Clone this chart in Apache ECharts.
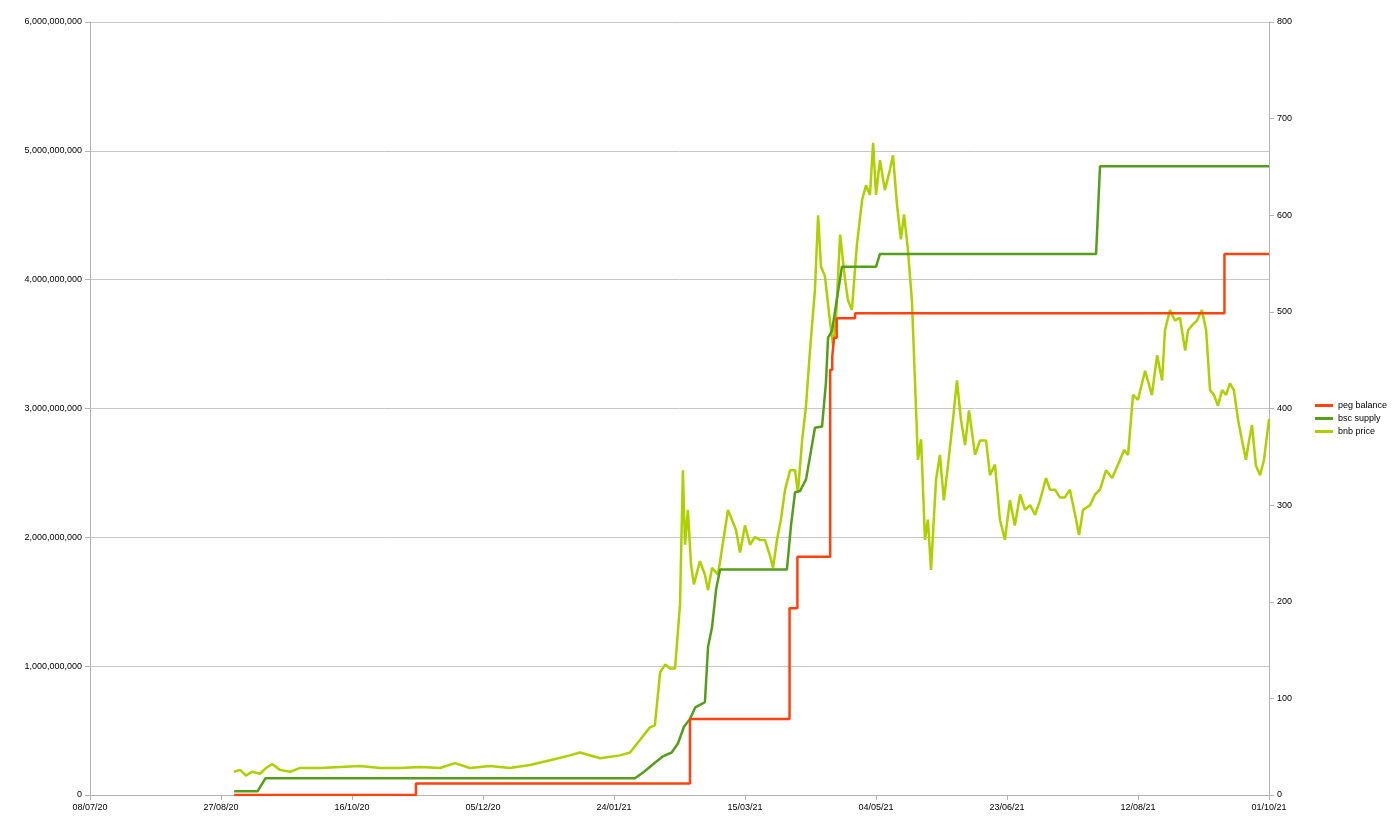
<!DOCTYPE html>
<html>
<head>
<meta charset="utf-8">
<script src="https://cdn.jsdelivr.net/npm/echarts@6/dist/echarts.min.js"></script>
<style>html,body{margin:0;padding:0;background:#fff}#chart{width:1400px;height:829px}</style>
</head>
<body>
<div id="chart"></div>
<script>
// x values are days since 08/07/20
var baseDate = Date.UTC(2020, 6, 8);

// peg balance: [day, value] step points
var pegBalance = [[55,0],[124.4,90e6],[229,590e6],[267,1.45e9],[270,1.85e9],[281,1.85e9],[282.5,3.3e9],[283.3,3.4e9],[284,3.55e9],[285,3.7e9],[292,3.74e9],[433,4.2e9],[450,4.2e9]];

// bsc supply
var bscSupply = [[55,30e6],[64,30e6],[65.5,80e6],[67,130e6],[208,130e6],[211.5,180e6],[215.6,250e6],[218.7,300e6],[222,330e6],[224.4,400e6],[226.7,530e6],[229,590e6],[231,680e6],[232.8,700e6],[234.7,720e6],[235.9,1.15e9],[237.4,1.3e9],[239,1.6e9],[240.5,1.75e9],[266,1.75e9],[267.6,2.1e9],[269.1,2.35e9],[271,2.36e9],[273.3,2.45e9],[276.7,2.85e9],[279.4,2.86e9],[280.9,3.2e9],[281.7,3.55e9],[283.2,3.6e9],[284.7,3.8e9],[287,4.1e9],[300,4.1e9],[301.5,4.2e9],[384,4.2e9],[385.5,4.88e9],[450,4.88e9]];

// bnb price (right axis)
var bnbPrice = [[55,24],[57.3,26],[59.5,20],[61.8,24],[64.9,22],[67.2,28],[69.5,32],[72.5,26],[76.3,24],[80.2,28],[87.8,28],[95.4,29],[103,30],[110.7,28],[118.3,28],[126,29],[133.6,28],[139.3,33],[145,28],[152.7,30],[160.3,28],[167.9,31],[175.6,36],[183.2,41],[187,44],[194.7,38],[202.3,41],[206.1,44],[209.9,57],[213.7,70],[215.6,72],[217.6,127],[219.5,135],[221.4,131],[223.3,131],[225.2,197],[226.3,336],[227.1,259],[228.2,295],[229.4,238],[230.5,218],[232.8,242],[234.7,228],[235.9,212],[237.4,235],[239.7,228],[243.5,295],[245,285],[246.6,274],[248.1,251],[250,279],[251.9,259],[253.8,267],[255.7,264],[257.6,264],[259.5,248],[260.7,235],[262.2,264],[263.7,285],[265.3,316],[267.2,336],[269.1,336],[270.2,313],[271.8,367],[273.3,403],[274.8,460],[276.7,523],[277.9,600],[279,547],[280.5,537],[282.4,491],[283.6,465],[284.7,491],[286.3,580],[288.2,533],[289.3,512],[290.8,502],[292.7,569],[294.7,616],[296.2,631],[297.7,621],[298.9,675],[300,621],[301.5,657],[303.4,626],[305.3,647],[306.5,662],[308,611],[309.5,575],[310.7,601],[312.2,564],[313.7,512],[315.3,398],[316,347],[317.2,368],[318.7,264],[319.8,285],[321,233],[322.9,326],[324.4,352],[325.9,305],[327.5,342],[329.4,389],[330.9,429],[332.4,389],[334,362],[335.5,398],[337.8,352],[339.7,367],[342,367],[343.5,331],[345.4,342],[347.3,285],[349.2,264],[351.1,305],[353,279],[355,311],[356.9,295],[358.8,300],[360.7,290],[362.6,305],[364.9,328],[366.4,316],[368.3,316],[370.2,308],[372.1,308],[374,316],[376,290],[377.5,269],[379,295],[381.7,300],[383.6,311],[385.5,316],[387.8,336],[390.1,328],[392.4,342],[394.7,357],[396.2,352],[398.1,414],[400,409],[402.7,439],[405.3,414],[407.3,455],[409.2,429],[410.3,481],[412.2,502],[414.1,491],[416,494],[418,460],[419.1,481],[420.6,486],[422.5,491],[424.4,502],[426,481],[427.5,419],[429,414],[430.5,403],[432.1,419],[433.6,414],[435.1,426],[436.6,419],[438.2,388],[439.7,367],[441.2,347],[442.4,367],[443.5,383],[445,341],[446.6,331],[448.1,347],[450,389]];

function fmtDate(d) {
  var t = new Date(baseDate + d * 86400000);
  var p = function (n) { return (n < 10 ? '0' : '') + n; };
  return p(t.getUTCDate()) + '/' + p(t.getUTCMonth() + 1) + '/' + p(t.getUTCFullYear() % 100);
}
function fmtNum(v) { return v.toString().replace(/\B(?=(\d{3})+(?!\d))/g, ','); }

var lbl = {color: '#000', fontSize: 9, fontFamily: 'Liberation Sans'};
var myChart = echarts.init(document.getElementById('chart'));
var option = {
  animation: false,
  textStyle: {fontFamily: 'Liberation Sans'},
  grid: {left: 90, right: 131, top: 22, bottom: 34},
  legend: {
    orient: 'vertical', right: 8, top: 396, itemWidth: 18, itemHeight: 3, itemGap: 4,
    icon: 'rect', textStyle: {fontSize: 9, color: '#000'},
    data: ['peg balance', 'bsc supply', 'bnb price']
  },
  xAxis: {
    type: 'value', min: 0, max: 450, interval: 50,
    axisLine: {lineStyle: {color: '#b3b3b3'}},
    axisTick: {show: true, lineStyle: {color: '#b3b3b3'}},
    splitLine: {show: false},
    axisLabel: Object.assign({formatter: fmtDate}, lbl)
  },
  yAxis: [{
    type: 'value', min: 0, max: 6e9, interval: 1e9,
    axisLine: {show: true, lineStyle: {color: '#b3b3b3'}},
    axisTick: {show: true, lineStyle: {color: '#b3b3b3'}},
    splitLine: {lineStyle: {color: '#c8c8c8'}},
    axisLabel: Object.assign({formatter: fmtNum}, lbl)
  }, {
    type: 'value', min: 0, max: 800, interval: 100,
    axisLine: {show: true, lineStyle: {color: '#b3b3b3'}},
    axisTick: {show: true, lineStyle: {color: '#b3b3b3'}},
    splitLine: {show: false},
    axisLabel: lbl
  }],
  series: [
    {name: 'peg balance', type: 'line', step: 'end', data: pegBalance, showSymbol: false, color: '#ff420e', lineStyle: {width: 2.5}, z: 3},
    {name: 'bsc supply', type: 'line', data: bscSupply, showSymbol: false, color: '#579d1c', lineStyle: {width: 2.5}, z: 2},
    {name: 'bnb price', type: 'line', yAxisIndex: 1, data: bnbPrice, showSymbol: false, color: '#aecf00', lineStyle: {width: 2.5}, z: 1}
  ]
};
myChart.setOption(option);
</script>
</body>
</html>
